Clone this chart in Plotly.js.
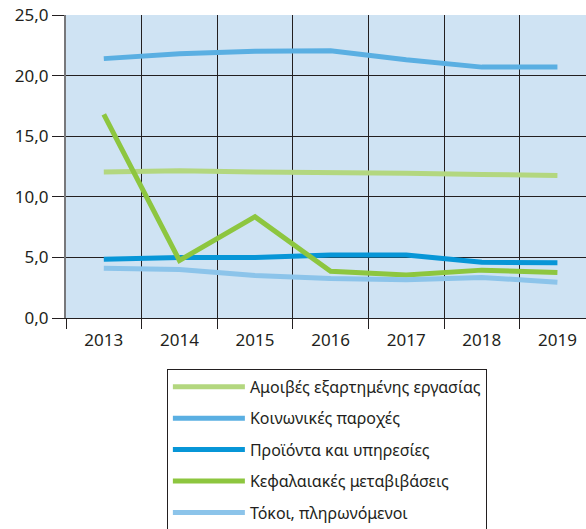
<!DOCTYPE html>
<html>
<head>
<meta charset="utf-8">
<script src="https://cdn.plot.ly/plotly-3.0.1.min.js"></script>
<style>html,body{margin:0;padding:0;background:#fff;}#chart{width:586px;height:529px;}</style>
</head>
<body>
<div id="chart"></div>
<script>
var years = ['2013','2014','2015','2016','2017','2018','2019'];
var names = ['Αμοιβές εξαρτημένης εργασίας','Κοινωνικές παροχές','Προϊόντα και υπηρεσίες','Κεφαλαιακές μεταβιβάσεις','Τόκοι, πληρωνόμενοι'];
var wages     = [12.05, 12.15, 12.05, 12.05, 11.95, 11.85, 11.75];
var social    = [21.4, 21.8, 22.0, 22.05, 21.3, 20.7, 20.7];
var goods     = [4.85, 5.0, 5.0, 5.2, 5.2, 4.6, 4.55];
var capital   = [16.8, 4.75, 8.35, 3.85, 3.55, 3.95, 3.75];
var interest  = [4.1, 4.0, 3.5, 3.25, 3.15, 3.35, 2.95];
var colors = ['#b3d77f','#5aafe2','#0796d7','#8dc63f','#8cc4ea'];
var series = [wages, social, goods, capital, interest];

var traces = series.map(function(v,i){
  return {x: years, y: v, type:'scatter', mode:'lines', name: names[i],
          legendgroup: 'g'+i,
          line:{color: colors[i], width:5}};
});

var font = '"Noto Sans", "Open Sans", sans-serif';
var layout = {
  width:586, height:529,
  margin:{l:66, r:0, t:15, b:211, autoexpand:false},
  paper_bgcolor:'#ffffff', plot_bgcolor:'#cfe3f3',
  separators:',.',
  showlegend:true,
  font:{family:font, color:'#231f20', size:17},
  xaxis:{type:'category', range:[-0.5, 6.378], tickson:'boundaries', ticks:'outside', ticklen:10,
         ticklabelstandoff:7,
         tickcolor:'#231f20', showgrid:true, gridcolor:'#231f20', gridwidth:1,
         showline:true, linecolor:'#231f20', linewidth:1, zeroline:false,
         tickfont:{size:17, color:'#231f20'}, fixedrange:true},
  yaxis:{range:[0,25], dtick:5, tick0:0, tickformat:'.1f', ticks:'outside', ticklen:12,
         tickcolor:'#231f20', showgrid:true, gridcolor:'#231f20', gridwidth:1,
         showline:true, linecolor:'#77787b', linewidth:2, zeroline:false,
         tickfont:{size:17, color:'#231f20'}, fixedrange:true},
  legend:{x:0.194, y:-0.168, xanchor:'left', yanchor:'top', bgcolor:'#ffffff',
          bordercolor:'#231f20', borderwidth:1, tracegroupgap:7.6, itemwidth:72,
          font:{size:16, color:'#231f20', family:font}}
};
Plotly.newPlot('chart', traces, layout, {displayModeBar:false, staticPlot:true});
</script>
</body>
</html>
